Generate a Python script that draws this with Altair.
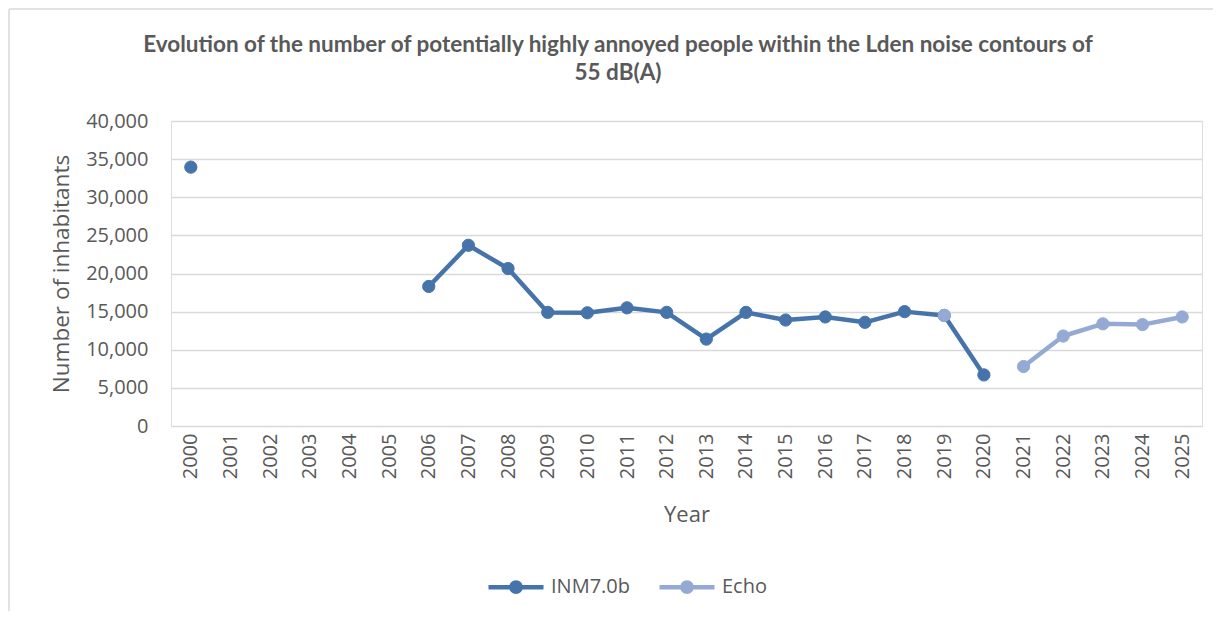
import altair as alt
import pandas as pd

years = [str(y) for y in range(2000, 2026)]

inm_years = ["2000", "2006", "2007", "2008", "2009", "2010", "2011", "2012", "2013",
             "2014", "2015", "2016", "2017", "2018", "2019", "2020"]
inm_values = [33950, 18300, 23700, 20650, 14900, 14850, 15500, 14900, 11400,
              14900, 13900, 14300, 13600, 15000, 14500, 6700]
inm_segments = ["a"] + ["b"] * 15

echo_years = ["2019", "2021", "2022", "2023", "2024", "2025"]
echo_values = [14500, 7800, 11800, 13400, 13300, 14300]
echo_segments = ["c"] + ["d"] * 5

series_names = ["INM7.0b", "Echo"]
series_colors = ["#4674AA", "#94AAD4"]

title_lines = ["Evolution of the number of potentially highly annoyed people within the Lden noise contours of",
               "55 dB(A)"]

rows = []
for y, v, s in zip(inm_years, inm_values, inm_segments):
    rows.append({"year": y, "value": v, "series": "INM7.0b", "seg": s, "ord": 0})
for y, v, s in zip(echo_years, echo_values, echo_segments):
    rows.append({"year": y, "value": v, "series": "Echo", "seg": s, "ord": 1})
df = pd.DataFrame(rows)

TEXT = "#595959"
FONT = "Open Sans"
BORDER = "#D9D9D9"

xenc = alt.X("year:O", scale=alt.Scale(type="point", padding=0.5, domain=years),
             axis=alt.Axis(title="Year", labelAngle=270, labelFontSize=20, labelColor=TEXT,
                           labelPadding=7, ticks=False, domain=False, titleFontSize=22,
                           titleColor=TEXT, titleFontWeight="normal", titlePadding=26,
                           labelFont=FONT, titleFont=FONT, grid=False))
yenc = alt.Y("value:Q", scale=alt.Scale(domain=[0, 40000]),
             axis=alt.Axis(title="Number of inhabitants", values=list(range(0, 40001, 5000)),
                           format=",d", labelFontSize=20, labelColor=TEXT, labelPadding=23,
                           ticks=False, domain=False, grid=True, gridColor=BORDER,
                           gridWidth=1.4, titleFontSize=22.5, titleColor=TEXT,
                           titleFontWeight="normal", titlePadding=12, labelFont=FONT,
                           titleFont=FONT))

scale = alt.Scale(domain=series_names, range=series_colors)
legend = alt.Legend(title=None, orient="none", direction="horizontal", legendX=315, legendY=436,
                    symbolType="M-1,0L1,0M-0.17,0A0.17,0.17 0 1,1 0.17,0A0.17,0.17 0 1,1 -0.17,0Z",
                    symbolSize=3025, symbolStrokeWidth=4.5, labelFontSize=20, labelColor=TEXT,
                    labelFont=FONT, columnPadding=20, labelOffset=5)

lines = alt.Chart(df).mark_line(strokeWidth=4.5, strokeCap="round", strokeJoin="round").encode(
    x=xenc, y=yenc,
    stroke=alt.Stroke("series:N", scale=scale, legend=legend),
    detail="seg:N",
)
points = alt.Chart(df).mark_point(filled=True, size=150, opacity=1, strokeWidth=1).encode(
    x=xenc, y=yenc,
    fill=alt.Fill("series:N", scale=scale, legend=legend),
    stroke=alt.Stroke("series:N", scale=scale, legend=legend),
    order=alt.Order("ord:Q"),
)

frame_df = pd.DataFrame({"k": [0]})
top_border = alt.Chart(frame_df).mark_rule(color=BORDER, strokeWidth=1.5).encode(
    x=alt.value(-162), x2=alt.value(1042), y=alt.value(-112))
left_border = alt.Chart(frame_df).mark_rule(color=BORDER, strokeWidth=1.5).encode(
    x=alt.value(-162), y=alt.value(-112), y2=alt.value(490))

title1 = alt.Chart(frame_df).mark_text(
    font="Lato", fontSize=22.5, fontWeight="bold", color=TEXT, align="center", baseline="middle"
).encode(x=alt.value(447), y=alt.value(-76), text=alt.value(title_lines[0]))
title2 = alt.Chart(frame_df).mark_text(
    font="Lato", fontSize=22.5, fontWeight="bold", color=TEXT, align="center", baseline="middle"
).encode(x=alt.value(447), y=alt.value(-48), text=alt.value(title_lines[1]))

chart = alt.layer(top_border, left_border, title1, title2, lines, points).properties(
    width=1031, height=305,
    padding={"left": 163, "top": 113, "right": 11, "bottom": 185},
    autosize=alt.AutoSizeParams(type="none"),
).configure_view(stroke=None).configure(background="white")

chart.save("out.html", embed_options={"renderer": "svg", "actions": False})
